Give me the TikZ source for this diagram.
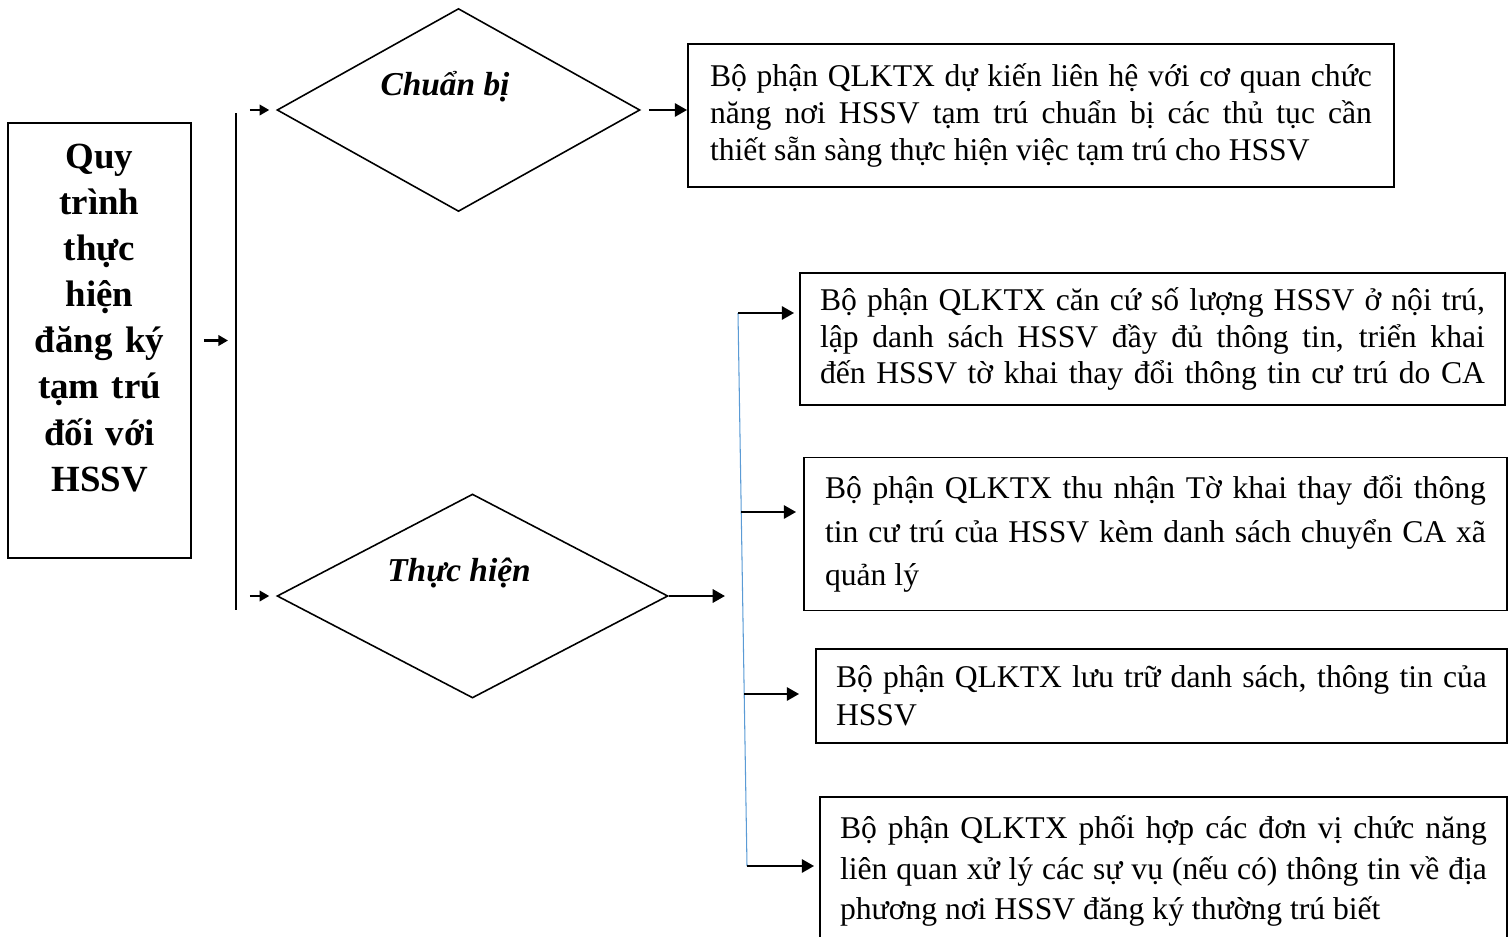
\documentclass[tikz,border=0pt]{standalone}
\usepackage{fontspec}
\setmainfont{Liberation Serif}
\usetikzlibrary{shapes.geometric,arrows.meta}
\definecolor{lineblue}{RGB}{91,155,213}
\tikzset{
stepbox/.style={draw, line width=1.1pt, align=justify, inner ysep=0pt, font=\fontsize{18}{21}\selectfont},
headbox/.style={draw, line width=1.1pt, inner sep=0pt},
headlbl/.style={align=center, inner sep=0pt, font=\fontsize{21}{26.2}\selectfont\bfseries},
choice/.style={draw, diamond, line width=0.9pt, inner sep=0pt},
choicelbl/.style={font=\fontsize{19}{22}\selectfont\bfseries\itshape},
arr/.style={line width=1.5pt, -{Triangle[length=7pt,width=7.5pt]}},
arrsmall/.style={line width=1.2pt, -{Triangle[length=5.5pt,width=6pt]}},
blueline/.style={draw=lineblue, line width=0.6pt}
}
\begin{document}
\begin{tikzpicture}[x=0.02cm, y=-0.02cm]
\clip (0,0) rectangle (1509,937);

\node[headbox, minimum width=3.66cm, minimum height=8.7cm] (proc) at (99.5,340.5) {};
\node[headlbl, text width=3.2cm] (procLbl) at (99.5,318)
  {Quy\\trình\\thực\\hiện\\đăng ký\\tạm trú\\đối với\\HSSV};

\coordinate (sTop) at (236,113);
\coordinate (sBot) at (236,610);
\draw[line width=0.8pt] (sTop) -- (sBot);
\draw[arrsmall, shorten <=0.24cm, shorten >=0.16cm] (proc.east) -- (proc.east -| sTop);

\node[choice, minimum width=7.26cm, minimum height=4.06cm] (prep) at (458.5,110) {};
\node[choice, minimum width=7.82cm, minimum height=4.08cm] (exec) at (472.5,596) {};
\node[choicelbl] (prepLbl) at (445,87) {Chuẩn bị};
\node[choicelbl] (execLbl) at (459,573) {Thực hiện};

\draw[arrsmall, shorten <=0.28cm, shorten >=0.14cm] (prep.west -| sTop) -- (prep.west);
\draw[arrsmall, shorten <=0.28cm, shorten >=0.14cm] (exec.west -| sTop) -- (exec.west);

\node[stepbox, text width=13.24cm, inner xsep=0.44cm, minimum height=2.86cm] (plan) at (1041,115.5)
  {Bộ phận QLKTX dự kiến liên hệ với cơ quan chức\linebreak năng nơi HSSV tạm trú chuẩn bị các thủ tục cần\linebreak thiết sẵn sàng thực hiện việc tạm trú cho HSSV};
\draw[arr, shorten <=0.16cm] (prep.east) -- (prep.east -| plan.west);

\coordinate (execEnd) at (725,596);
\draw[arr] (exec.east) -- (execEnd);

\node[stepbox, text width=13.3cm, inner xsep=0.4cm, minimum height=2.64cm] (box1) at (1152.5,339)
  {Bộ phận QLKTX căn cứ số lượng HSSV ở nội trú,\linebreak lập danh sách HSSV đầy đủ thông tin, triển khai\linebreak đến HSSV tờ khai thay đổi thông tin cư trú do CA\parfillskip=0pt\par};
\node[stepbox, text width=13.22cm, inner xsep=0.42cm, minimum height=3.06cm, font=\fontsize{18}{25}\selectfont] (box2) at (1155.5,534)
  {Bộ phận QLKTX thu nhận Tờ khai thay đổi thông\linebreak tin cư trú của HSSV kèm danh sách chuyển CA xã\linebreak quản lý};
\node[stepbox, text width=13.02cm, inner xsep=0.4cm, minimum height=1.88cm, font=\fontsize{18}{21.6}\selectfont] (box3) at (1161.5,696)
  {Bộ phận QLKTX lưu trữ danh sách, thông tin của\linebreak HSSV};
\node[stepbox, text width=12.94cm, inner xsep=0.4cm, minimum height=2.96cm, font=\fontsize{18}{22.8}\selectfont] (box4) at (1163.5,871)
  {Bộ phận QLKTX phối hợp các đơn vị chức năng\linebreak liên quan xử lý các sự vụ (nếu có) thông tin về địa\linebreak phương nơi HSSV đăng ký thường trú biết};

\coordinate (b1) at (738,313);
\coordinate (b2) at (741,512);
\coordinate (b3) at (744,694);
\coordinate (b4) at (747,866);
\draw[blueline] (b1) -- (b4);
\draw[arr, shorten >=0.1cm] (b1) -- (b1 -| box1.west);
\draw[arr, shorten >=0.14cm] (b2) -- (b2 -| box2.west);
\draw[arr, shorten >=0.32cm] (b3) -- (b3 -| box3.west);
\draw[arr, shorten >=0.1cm] (b4) -- (b4 -| box4.west);

\end{tikzpicture}
\end{document}
